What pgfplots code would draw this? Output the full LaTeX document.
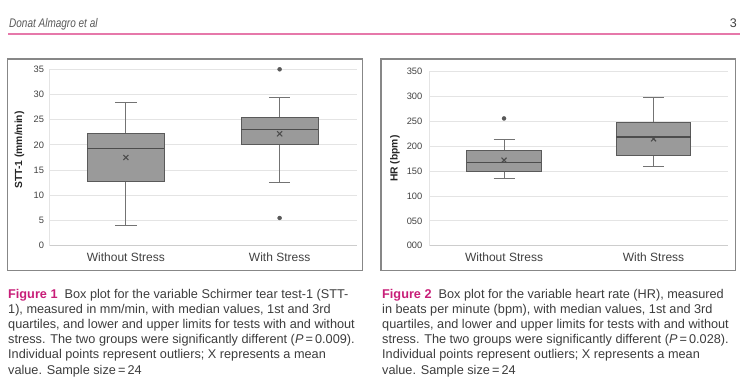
\documentclass[border=0pt]{standalone}
\usepackage{pgfplots}
\pgfplotsset{compat=1.18}
\usepackage{fontspec}
\setmainfont{Liberation Sans}
\usepackage{graphicx}
\definecolor{boxfill}{RGB}{154,154,154}
\definecolor{boxdraw}{RGB}{90,90,90}
\definecolor{whisk}{RGB}{115,115,115}
\definecolor{gridc}{RGB}{228,228,228}
\definecolor{axisc}{RGB}{205,205,205}
\definecolor{tickc}{RGB}{64,64,64}
\definecolor{pinkfig}{RGB}{200,30,120}
\definecolor{pinkline}{RGB}{230,120,170}
\definecolor{capc}{RGB}{60,60,60}
\definecolor{framec}{RGB}{135,135,135}

\pgfplotsset{
 mybox/.style={
  scale only axis, anchor=south west, clip=false,
  xmin=-0.5, xmax=1.5, xtick={0,1}, xticklabels={Without Stress, With Stress},
  ymajorgrids, grid style={draw=gridc, line width=0.8pt},
  axis x line*=bottom, axis y line*=left,
  x axis line style={draw=axisc, line width=0.8pt, -},
  y axis line style={draw=gridc, line width=0.8pt, -},
  major tick length=0pt,
  unbounded coords=jump,
  /pgf/number format/assume math mode=true,
  yticklabel style={font=\fontsize{9.3}{11}\selectfont, text=tickc},
  xticklabel style={font=\fontsize{12}{14}\selectfont, text=tickc, yshift=-3.5pt},
  ylabel style={font=\bfseries\fontsize{10.3}{12}\selectfont, text=black!85, anchor=center},
 },
 boxst/.style={draw=boxdraw, fill=boxfill, line width=0.9pt, line join=miter, mark=none},
 whst/.style={draw=whisk, line width=0.85pt, mark=none},
 medst/.style={draw=boxdraw!85!black, line width=1.3pt, mark=none},
 meanmark/.style={only marks, mark=x, mark size=3.6pt, mark options={draw=black!70, line width=1.1pt}},
 outmark/.style={only marks, mark=*, mark size=2pt, mark options={draw=black!65, fill=black!65}},
}

\begin{document}
\begin{tikzpicture}
\path[use as bounding box] (0,0) rectangle (747pt,-382pt);
\begin{scope}[x=1pt,y=-1pt]
 % header
 \node[anchor=base west, inner sep=0, text=black!65] at (9,28)
   {\scalebox{0.8}[1]{\itshape\fontsize{12.5}{14}\selectfont Donat Almagro et al}};
 \node[anchor=base east, inner sep=0, text=black!75] at (737,28) {\fontsize{12.5}{14}\selectfont 3};
 \draw[pinkline, line width=1.3pt] (8,34) -- (740,34);
 % frames
 \draw[framec, line width=1.2pt] (7.7,59) rectangle (362.7,270.5);
 \draw[framec, line width=1.2pt] (381,59) rectangle (735.5,270.5);
 % captions
 \begin{scope}[every node/.style={anchor=base west, inner sep=0, text=capc, font=\fontsize{12.7}{15}\selectfont}]
 \node at (8,298.5) {\textcolor{pinkfig}{\bfseries Figure 1}\ \ Box plot for the variable Schirmer tear test-1 (STT-};
 \node at (8,313.6) {1), measured in mm/min, with median values, 1st and 3rd};
 \node at (8,328.7) {quartiles, and lower and upper limits for tests with and without};
 \node at (8,343.8) {stress. The two groups were significantly different (\textit{P}\,=\,0.009).};
 \node at (8,358.9) {Individual points represent outliers; X represents a mean};
 \node at (8,374.0) {value. Sample size\,=\,24};
 \node at (382,298.5) {\textcolor{pinkfig}{\bfseries Figure 2}\ \ Box plot for the variable heart rate (HR), measured};
 \node at (382,313.6) {in beats per minute (bpm), with median values, 1st and 3rd};
 \node at (382,328.7) {quartiles, and lower and upper limits for tests with and without};
 \node at (382,343.8) {stress. The two groups were significantly different (\textit{P}\,=\,0.028).};
 \node at (382,358.9) {Individual points represent outliers; X represents a mean};
 \node at (382,374.0) {value. Sample size\,=\,24};
 \end{scope}
\end{scope}

% Figure 1
\begin{axis}[mybox, at={(49pt,-245.7pt)}, width=307.5pt, height=176.4pt,
  ymin=0, ymax=35, ytick={0,5,...,35},
  yticklabel style={xshift=-1.5pt},
  ylabel={STT-1 (mm/min)},
  ylabel style={at={(axis description cs:-0.096,0.5425)}}]
% Without Stress: whiskers 4 / 28.5, quartiles 12.8 / 22.3, median 19.25
\addplot[whst] coordinates {(0,22.3) (0,28.5) (nan,nan) (-0.07,28.5) (0.07,28.5) (nan,nan) (0,12.8) (0,4) (nan,nan) (-0.07,4) (0.07,4)};
\addplot[boxst] coordinates {(-0.25,12.8) (0.25,12.8) (0.25,22.3) (-0.25,22.3) (-0.25,12.8) (0.25,12.8)};
\addplot[medst] coordinates {(-0.25,19.25) (0.25,19.25)};
% With Stress: whiskers 12.6 / 29.4, quartiles 20.0 / 25.5, median 23.0
\addplot[whst] coordinates {(1,25.5) (1,29.4) (nan,nan) (0.93,29.4) (1.07,29.4) (nan,nan) (1,20.0) (1,12.6) (nan,nan) (0.93,12.6) (1.07,12.6)};
\addplot[boxst] coordinates {(0.75,20.0) (1.25,20.0) (1.25,25.5) (0.75,25.5) (0.75,20.0) (1.25,20.0)};
\addplot[medst] coordinates {(0.75,23.0) (1.25,23.0)};
\addplot[meanmark] coordinates {(0,17.5) (1,22.2)};
\addplot[outmark] coordinates {(1,35) (1,5.5)};
\end{axis}

% Figure 2
\begin{axis}[mybox, at={(429.3pt,-245.7pt)}, width=299pt, height=174pt,
  ymin=0, ymax=350, ytick={0,50,...,350},
  yticklabels={000,050,100,150,200,250,300,350},
  yticklabel style={xshift=-3.5pt},
  ylabel={HR (bpm)},
  ylabel style={at={(axis description cs:-0.1147,0.5)}}]
% Without Stress: whiskers 135.5 / 214.6, quartiles 150 / 191, median 167
\addplot[whst] coordinates {(0,191) (0,214.6) (nan,nan) (-0.07,214.6) (0.07,214.6) (nan,nan) (0,150) (0,135.5) (nan,nan) (-0.07,135.5) (0.07,135.5)};
\addplot[boxst] coordinates {(-0.25,150) (0.25,150) (0.25,191) (-0.25,191) (-0.25,150) (0.25,150)};
\addplot[medst] coordinates {(-0.25,167) (0.25,167)};
% With Stress: whiskers 160 / 298, quartiles 182 / 248, median 218.6
\addplot[whst] coordinates {(1,248) (1,298) (nan,nan) (0.93,298) (1.07,298) (nan,nan) (1,182) (1,160) (nan,nan) (0.93,160) (1.07,160)};
\addplot[boxst] coordinates {(0.75,182) (1.25,182) (1.25,248) (0.75,248) (0.75,182) (1.25,182)};
\addplot[medst] coordinates {(0.75,218.6) (1.25,218.6)};
\addplot[meanmark] coordinates {(0,172) (1,215)};
\addplot[outmark] coordinates {(0,256)};
\end{axis}
\end{tikzpicture}
\end{document}
